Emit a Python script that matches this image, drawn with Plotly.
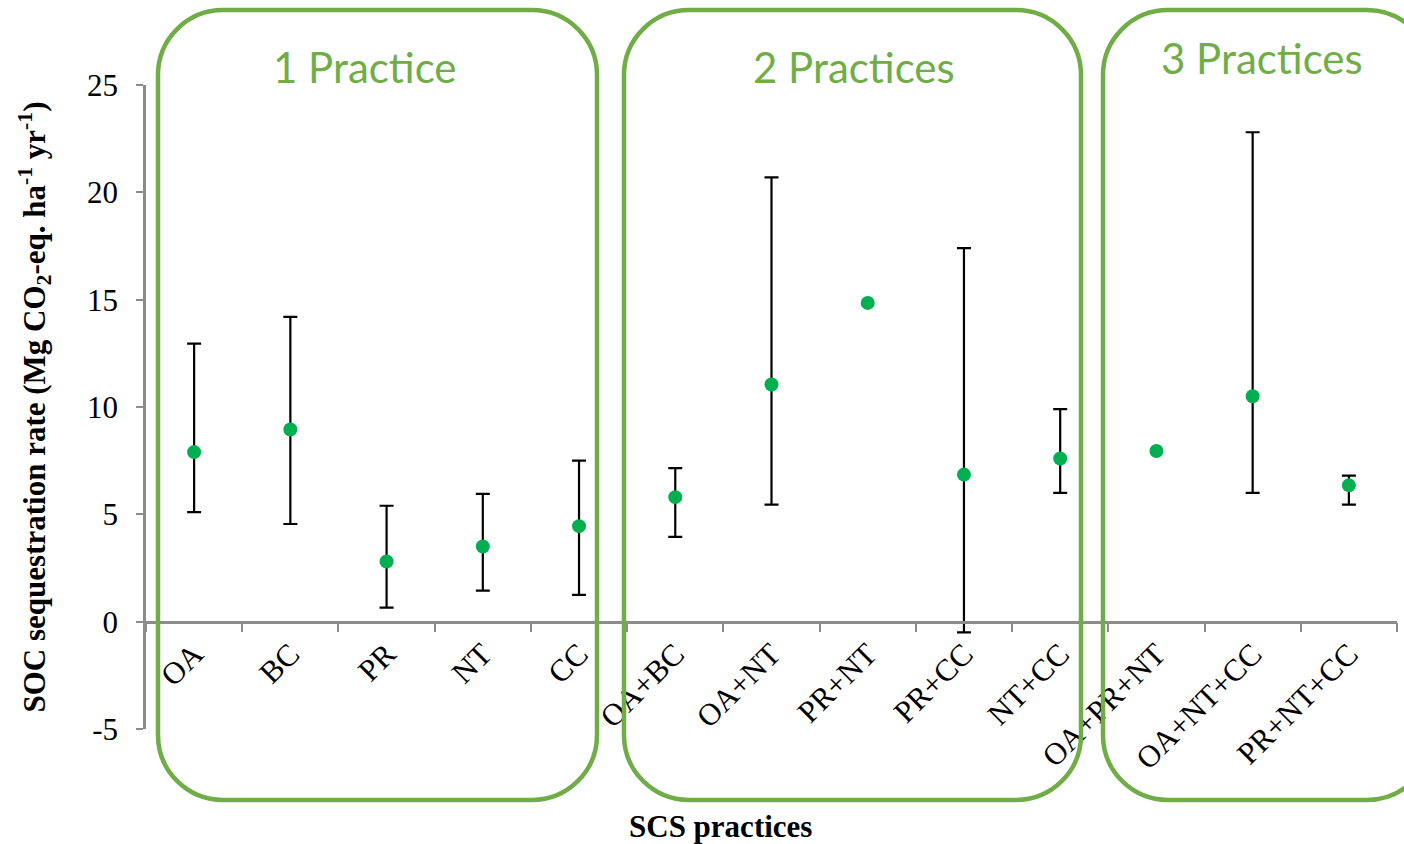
import plotly.graph_objects as go

# SCS practice combinations and SOC sequestration rates (Mg CO2-eq. ha-1 yr-1)
categories = ["OA", "BC", "PR", "NT", "CC",
              "OA+BC", "OA+NT", "PR+NT", "PR+CC", "NT+CC",
              "OA+PR+NT", "OA+NT+CC", "PR+NT+CC"]
mean_rate = [7.9, 8.95, 2.8, 3.5, 4.45,
             5.8, 11.05, 14.85, 6.85, 7.6,
             7.95, 10.5, 6.35]
upper_rate = [12.95, 14.2, 5.4, 5.95, 7.5,
              7.15, 20.7, None, 17.4, 9.9,
              None, 22.8, 6.8]
lower_rate = [5.1, 4.55, 0.65, 1.45, 1.25,
              3.95, 5.45, None, -0.5, 6.0,
              None, 6.0, 5.45]

y_tick_values = [-5, 0, 5, 10, 15, 20, 25]
y_tick_labels = ["-5", "0", "5", "10", "15", "20", "25"]

group_labels = ["1 Practice", "2 Practices", "3 Practices"]

GREEN_BOX = "#70AD47"
GREEN_DOT = "#00B050"
AXIS_GREY = "#8C8C8C"
SERIF = "Liberation Serif, Times New Roman, serif"
FS = 31

W, H = 1404, 844
ML, MR, MT, MB = 146, 7, 85, 115
PW, PH = W - ML - MR, H - MT - MB


def to_paper(px, py):
    return (px - ML) / PW, (H - MB - py) / PH


def rounded_box(x0, y0, x1, y1, r):
    k = 0.5523 * r

    def P(x, y):
        a, b = to_paper(x, y)
        return f"{a:.5f},{b:.5f}"

    d = (f"M{P(x0 + r, y0)} L{P(x1 - r, y0)} "
         f"C{P(x1 - r + k, y0)} {P(x1, y0 + r - k)} {P(x1, y0 + r)} "
         f"L{P(x1, y1 - r)} "
         f"C{P(x1, y1 - r + k)} {P(x1 - r + k, y1)} {P(x1 - r, y1)} "
         f"L{P(x0 + r, y1)} "
         f"C{P(x0 + r - k, y1)} {P(x0, y1 - r + k)} {P(x0, y1 - r)} "
         f"L{P(x0, y0 + r)} "
         f"C{P(x0, y0 + r - k)} {P(x0 + r - k, y0)} {P(x0 + r, y0)} Z")
    return dict(type="path", xref="paper", yref="paper", path=d,
                line=dict(color=GREEN_BOX, width=4.5), layer="above")


# split points with and without a reported range
with_err = [i for i, u in enumerate(upper_rate) if u is not None]
no_err = [i for i, u in enumerate(upper_rate) if u is None]

fig = go.Figure()
fig.add_trace(go.Scatter(
    x=[categories[i] for i in with_err],
    y=[mean_rate[i] for i in with_err],
    mode="markers",
    marker=dict(color=GREEN_DOT, size=14),
    error_y=dict(type="data", symmetric=False,
                 array=[upper_rate[i] - mean_rate[i] for i in with_err],
                 arrayminus=[mean_rate[i] - lower_rate[i] for i in with_err],
                 color="black", thickness=2.2, width=7),
    showlegend=False,
))
fig.add_trace(go.Scatter(
    x=[categories[i] for i in no_err],
    y=[mean_rate[i] for i in no_err],
    mode="markers",
    marker=dict(color=GREEN_DOT, size=14),
    showlegend=False,
))

shapes = [
    rounded_box(158, 10, 597, 800, 65),
    rounded_box(624, 10, 1081, 800, 65),
    rounded_box(1103, 10, 1432, 800, 65),
]

annotations = []
for label, (cx, cy) in zip(group_labels, [(365, 67), (854, 67), (1262, 58)]):
    ax_, ay_ = to_paper(cx, cy)
    annotations.append(dict(text=label, x=ax_, y=ay_, xref="paper", yref="paper",
                            showarrow=False, xanchor="center", yanchor="middle",
                            font=dict(family="Lato, Open Sans, sans-serif",
                                      size=42, color=GREEN_BOX)))
tx, ty = to_paper(720, 826)
annotations.append(dict(text="<b>SCS practices</b>", x=tx, y=ty, xref="paper", yref="paper",
                        showarrow=False, xanchor="center", yanchor="middle",
                        font=dict(family=SERIF, size=FS, color="black")))

fig.update_layout(
    width=W, height=H,
    margin=dict(l=ML, r=MR, t=MT, b=MB),
    paper_bgcolor="white", plot_bgcolor="white",
    shapes=shapes, annotations=annotations,
    xaxis=dict(
        type="category", categoryorder="array", categoryarray=categories,
        range=[-0.5, len(categories) - 0.5],
        anchor="free", position=5 / 30,
        showline=True, linecolor=AXIS_GREY, linewidth=2.5,
        ticks="outside", tickson="boundaries", ticklen=9, tickwidth=2,
        tickcolor=AXIS_GREY, tickangle=-45, showgrid=False, zeroline=False,
        tickfont=dict(family=SERIF, size=FS, color="black"),
    ),
    yaxis=dict(
        range=[-5, 25], tickmode="array", tickvals=y_tick_values, ticktext=y_tick_labels,
        domain=[0, 1],
        showline=True, linecolor=AXIS_GREY, linewidth=2.5,
        ticks="outside", ticklen=7, tickwidth=2, tickcolor=AXIS_GREY,
        ticklabelstandoff=12,
        showgrid=False, zeroline=False,
        tickfont=dict(family=SERIF, size=FS, color="black"),
        title=dict(text="<b>SOC sequestration rate (Mg CO<sub>2</sub>-eq. ha<sup>-1</sup> yr<sup>-1</sup>)</b>",
                   font=dict(family=SERIF, size=FS, color="black"), standoff=33),
    ),
)

fig.write_html("out.html")
